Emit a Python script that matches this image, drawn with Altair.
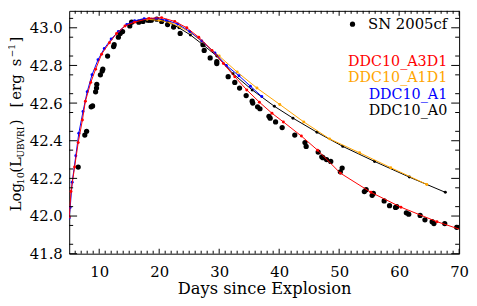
import altair as alt
import pandas as pd

# ---------------- data ----------------
sn_day = [6.5, 7.6, 7.9, 8.66, 8.9, 9.4, 9.55, 9.6, 10.2, 10.5, 10.6, 11.4, 12.4, 12.5,
          13.2, 13.5, 13.9, 15.1, 15.4, 16.6, 17.3, 18.1, 18.4, 18.7, 19.6, 20.4, 21.4,
          22.4, 23.5, 27.3, 27.5, 28.5, 29.6, 29.6, 31.5, 32.6, 33.4, 34.5, 35.5, 35.6,
          36.4, 36.8, 38.3, 38.5, 39.4, 40.5, 42.6, 44.3, 44.5, 46.5, 47.1, 47.3, 47.9,
          48.6, 50.2, 50.5, 54.2, 54.5, 55.5, 55.7, 57.5, 58.4, 59.4, 59.6, 61.2, 61.6,
          63.5, 64.3, 65.5, 65.8, 67.6, 69.6]
sn_lum = [42.26, 42.43, 42.45, 42.58, 42.585, 42.66, 42.68, 42.70, 42.75, 42.77, 42.78,
          42.85, 42.90, 42.91, 42.95, 42.97, 42.98, 43.01, 43.03, 43.03, 43.034, 43.04,
          43.04, 43.04, 43.046, 43.034, 43.017, 43.004, 42.97, 42.91, 42.88, 42.84, 42.82,
          42.81, 42.74, 42.71, 42.68, 42.64, 42.61, 42.60, 42.58, 42.57, 42.53, 42.52,
          42.50, 42.47, 42.43, 42.39, 42.37, 42.34, 42.315, 42.31, 42.30, 42.29, 42.235,
          42.255, 42.13, 42.14, 42.11, 42.12, 42.08, 42.055, 42.046, 42.05, 42.017, 42.01,
          42.003, 41.98, 41.97, 41.96, 41.96, 41.94]

a3d1_day = [5.0, 5.3, 5.9, 6.5, 7.2, 7.7, 8.6, 9.4, 10.4, 11.7, 12.9, 14.3, 15.9, 18.3,
            20.4, 22.6, 24.6, 26.6, 28.8, 30.7, 32.6, 34.6, 36.7, 38.8, 40.7, 43.7, 46.4,
            50.2, 55.3, 60.3, 66.3, 71.0]
a3d1_lum = [41.995, 42.13, 42.26, 42.39, 42.51, 42.61, 42.71, 42.78, 42.86, 42.92, 42.97,
            43.01, 43.03, 43.05, 43.054, 43.034, 43.0, 42.95, 42.88, 42.81, 42.74, 42.67,
            42.605, 42.546, 42.50, 42.425, 42.35, 42.228, 42.126, 42.047, 41.97, 41.92]

a1d1_day = [18.0, 20.0, 21.8, 23.5, 25.2, 27.1, 30.0, 33.0, 36.3, 40.1, 44.1, 48.4, 53.4,
            58.6, 64.6]
a1d1_lum = [43.045, 43.04, 43.028, 43.005, 42.975, 42.928, 42.85, 42.765, 42.68, 42.593,
            42.50, 42.41, 42.336, 42.257, 42.168]

a1_day = [5.0, 5.16, 5.5, 6.1, 6.6, 7.3, 8.0, 8.8, 9.8, 10.85, 12.0, 13.2, 14.6, 15.9,
          17.5, 19.5, 21.2, 23.1, 25.1, 27.1, 29.3, 31.2, 33.3, 35.2, 37.1]
a1_lum = [41.99, 42.045, 42.18, 42.32, 42.44, 42.555, 42.66, 42.75, 42.83, 42.89, 42.94,
          42.98, 43.017, 43.037, 43.048, 43.05, 43.04, 43.02, 42.98, 42.93, 42.866, 42.80,
          42.745, 42.69, 42.635]

a0_day = [17.0, 19.5, 21.5, 23.3, 25.2, 27.3, 29.6, 32.3, 35.5, 39.2, 42.3, 46.3, 50.6,
          55.9, 61.7, 67.7]
a0_lum = [43.04, 43.045, 43.03, 43.0, 42.962, 42.91, 42.85, 42.756, 42.67, 42.583, 42.52,
          42.445, 42.37, 42.29, 42.207, 42.126]

model_names = ["DDC10_A3D1", "DDC10_A1D1", "DDC10_A1", "DDC10_A0"]
model_colors = ["#FF0000", "#FFA500", "#0000FF", "#000000"]

x_ticks = [10, 20, 30, 40, 50, 60, 70]
y_ticks = [41.8, 42.0, 42.2, 42.4, 42.6, 42.8, 43.0]
x_minor = [v for v in range(6, 70) if v % 10 != 0]
y_minor = [round(41.85 + 0.1 * i, 2) for i in range(13)]

# ---------------- layout ----------------
W, H = 395, 246
FONT = "DejaVu Serif"
xs = alt.Scale(domain=[5, 70], nice=False, zero=False)
ys = alt.Scale(domain=[41.8, 43.09], nice=False, zero=False)

x_axis = alt.Axis(
    values=x_ticks, format="d", title="Days since Explosion", ticks=False,
    domain=False, grid=False, labelFont=FONT, labelFontSize=15,
    labelColor="black", labelPadding=11, labelFlush=False,
    titleFont=FONT, titleFontSize=16.5, titleFontWeight="normal",
    titleColor="black", titlePadding=1)
y_axis = alt.Axis(
    values=y_ticks, format=".1f", title="", ticks=False, domain=False,
    grid=False, labelFont=FONT, labelFontSize=15, labelColor="black",
    labelPadding=7, labelFlush=False)

X = alt.X("day:Q", scale=xs, axis=x_axis, title="Days since Explosion")
Y = alt.Y("lum:Q", scale=ys, axis=y_axis, title="")

layers = []

# observed data
sn_df = pd.DataFrame({"day": sn_day, "lum": sn_lum})
layers.append(alt.Chart(sn_df).mark_circle(size=28, color="black", opacity=1, clip=True)
              .encode(x=X, y=Y))

model_data = {
    "DDC10_A0": (a0_day, a0_lum),
    "DDC10_A1D1": (a1d1_day, a1d1_lum),
    "DDC10_A1": (a1_day, a1_lum),
    "DDC10_A3D1": (a3d1_day, a3d1_lum),
}
color_of = dict(zip(model_names, model_colors))
for name in ["DDC10_A0", "DDC10_A1D1", "DDC10_A1", "DDC10_A3D1"]:
    d, l = model_data[name]
    base = alt.Chart(pd.DataFrame({"day": d, "lum": l})).encode(x=X, y=Y)
    layers.append(base.mark_line(color=color_of[name], strokeWidth=1, clip=True))
    layers.append(base.mark_circle(color=color_of[name], size=9, opacity=1, clip=True))


# inward tick marks on all four sides
def xtick_layer(vals, length, top):
    c = alt.Chart(pd.DataFrame({"day": vals})).mark_rule(color="black", strokeWidth=1)
    if top:
        return c.encode(x=X, y=alt.value(0), y2=alt.value(length))
    return c.encode(x=X, y=alt.value(H), y2=alt.value(H - length))


def ytick_layer(vals, length, right):
    c = alt.Chart(pd.DataFrame({"lum": vals})).mark_rule(color="black", strokeWidth=1)
    if right:
        return c.encode(y=Y, x=alt.value(W), x2=alt.value(W - length))
    return c.encode(y=Y, x=alt.value(0), x2=alt.value(length))


for top in (False, True):
    layers.append(xtick_layer(x_ticks, 5, top))
    layers.append(xtick_layer(x_minor, 3, top))
for right in (False, True):
    layers.append(ytick_layer(y_ticks, 8, right))
    layers.append(ytick_layer(y_minor, 4, right))


def text_piece(txt, x, y, size=15, color="black", align="left", baseline="alphabetic", angle=0):
    return alt.Chart(alt.Data(values=[{}])).mark_text(
        text=txt, font=FONT, fontSize=size, color=color, align=align,
        baseline=baseline, angle=angle).encode(x=alt.value(x), y=alt.value(y))


# rotated y-axis title with sub/superscripts
title_pieces = [
    ("Log", 203, -49, 15),
    ("10", 176, -46, 10),
    ("(L", 164, -49, 15),
    ("UBVRI", 148.5, -46, 9),
    (")", 116, -49, 15),
    ("[", 98, -49, 15),
    ("erg", 90, -49, 15),
    ("s", 56, -49, 15),
    ("\u22121", 47, -55, 9),
    ("]", 32, -49, 15),
]
for txt, yy, xx, sz in title_pieces:
    layers.append(text_piece(txt, xx, yy, size=sz, angle=270))

# legend
layers.append(alt.Chart(alt.Data(values=[{}])).mark_circle(size=28, color="black", opacity=1)
              .encode(x=alt.value(287), y=alt.value(13.5)))
layers.append(text_piece("SN 2005cf", 383, 13.5, baseline="middle", align="right"))
for name, yy in zip(model_names, [52, 68.5, 85, 101.5]):
    layers.append(text_piece(name, 383, yy, size=14.5, color=color_of[name],
                             baseline="middle", align="right"))

chart = alt.layer(*layers).properties(
    width=W, height=H,
    autosize=alt.AutoSizeParams(type="none"),
    padding={"left": 62, "top": 1, "right": 10, "bottom": 43},
).configure_view(stroke="black", strokeWidth=1)

chart.save("out.html", embed_options={"renderer": "svg", "actions": False})
